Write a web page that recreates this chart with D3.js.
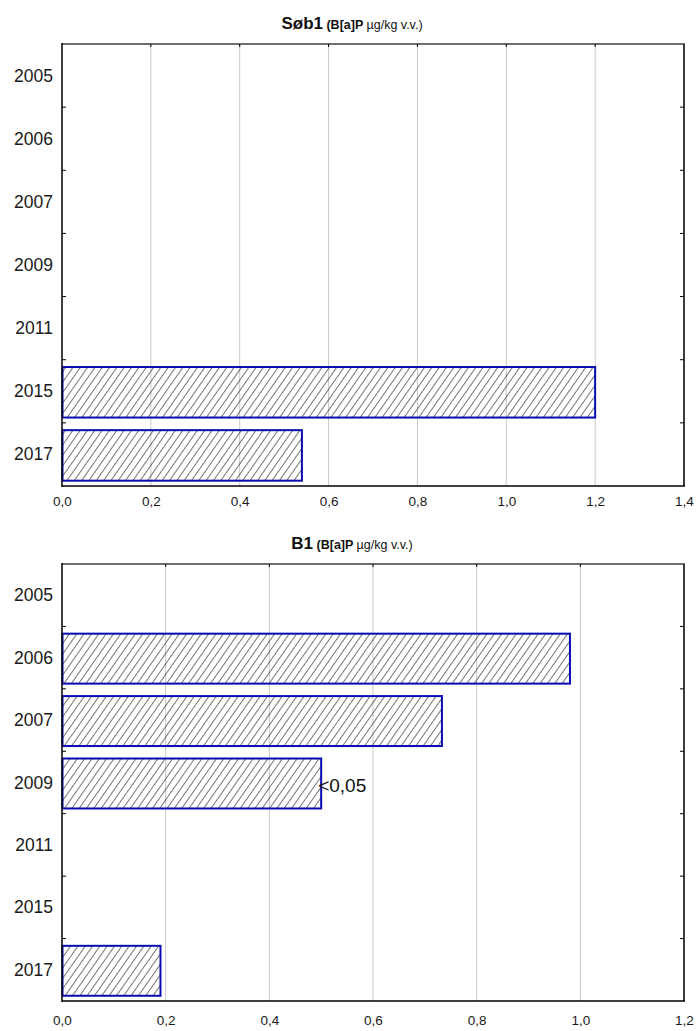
<!DOCTYPE html>
<html>
<head>
<meta charset="utf-8">
<script src="https://cdn.jsdelivr.net/npm/d3@7"></script>
<style>
  html, body { margin: 0; padding: 0; background: #fff; }
  svg { display: block; font-family: "Liberation Sans", Arial, sans-serif; }
</style>
</head>
<body>
<svg id="chart" width="697" height="1031"></svg>
<script>
// Sampling years (one row per year, top to bottom)
const years = ["2005", "2006", "2007", "2009", "2011", "2015", "2017"];

// B[a]P concentrations, µg/kg wet weight (null = no measurement)
const sob1Values = [null, null, null, null, null, 1.2, 0.54];
const b1Values = [null, 0.98, 0.733, 0.5, null, null, 0.19];

// Value-axis tick labels for each panel
const sob1Ticks = [0, 0.2, 0.4, 0.6, 0.8, 1.0, 1.2, 1.4];
const b1Ticks = [0, 0.2, 0.4, 0.6, 0.8, 1.0, 1.2];

// Detection-limit notes written beside a bar
const b1Notes = [null, null, null, "<0,05", null, null, null];

const svg = d3.select("#chart");
const fmt = v => d3.format(".1f")(v).replace(".", ",");

// diagonal hatch fill used by every bar
const defs = svg.append("defs");
defs.append("pattern")
  .attr("id", "hatch")
  .attr("patternUnits", "userSpaceOnUse")
  .attr("width", 6).attr("height", 6)
  .attr("patternTransform", "rotate(35)")
  .append("line")
  .attr("x1", 0).attr("y1", 0).attr("x2", 0).attr("y2", 6)
  .attr("stroke", "#000").attr("stroke-width", 1.1);

function panel(cfg) {
  const { left, right, top, bottom, values, ticks, notes, name, labelOffset } = cfg;
  const g = svg.append("g");

  const x = d3.scaleLinear().domain([0, ticks[ticks.length - 1]]).range([left, right]);
  const y = d3.scaleBand().domain(years).range([top, bottom]).paddingInner(0.2).paddingOuter(0.1);
  const yb = d3.scaleBand().domain(years).range([top, bottom]);

  // title
  const t = g.append("text")
    .attr("x", 352).attr("y", top - 15)
    .attr("text-anchor", "middle")
    .attr("fill", "#111");
  t.append("tspan").attr("font-size", 17).attr("font-weight", "bold").text(name);
  t.append("tspan").attr("font-size", 12.5).attr("font-weight", "bold").text(" (B[a]P ");
  t.append("tspan").attr("font-size", 12.5).text("µg/kg v.v.)");

  // vertical grid lines
  g.append("g").selectAll("line")
    .data(ticks.slice(1, -1))
    .join("line")
    .attr("x1", d => x(d)).attr("x2", d => x(d))
    .attr("y1", top).attr("y2", bottom)
    .attr("stroke", "#c8c8c8").attr("stroke-width", 1);

  // bars
  const rows = years.map((yr, i) => ({ yr, v: values[i], note: notes ? notes[i] : null }))
    .filter(d => d.v != null);
  g.append("g").selectAll("rect")
    .data(rows)
    .join("rect")
    .attr("x", x(0) + 0.5)
    .attr("y", d => y(d.yr) + 1)
    .attr("width", d => x(d.v) - x(0) - 0.5)
    .attr("height", y.bandwidth())
    .attr("fill", "url(#hatch)")
    .attr("stroke", "#0a0ab4").attr("stroke-width", 2);

  // notes beside bars
  g.append("g").selectAll("text")
    .data(rows.filter(d => d.note))
    .join("text")
    .attr("x", d => x(d.v) - 3)
    .attr("y", d => y(d.yr) + y.bandwidth() / 2 + 9)
    .attr("font-size", 19)
    .attr("fill", "#111")
    .text(d => d.note);

  // frame: top and right in grey, left and bottom axes in black
  g.append("line").attr("x1", left).attr("x2", right + 1).attr("y1", top).attr("y2", top)
    .attr("stroke", "#6e6e6e").attr("stroke-width", 2);
  g.append("line").attr("x1", right).attr("x2", right).attr("y1", top).attr("y2", bottom)
    .attr("stroke", "#3c3c3c").attr("stroke-width", 2);

  // left and right ticks on the boundaries between years
  const bounds = years.slice(1).map(yr => yb(yr));
  g.append("g").selectAll("line")
    .data(bounds)
    .join("line")
    .attr("x1", left).attr("x2", left + 4)
    .attr("y1", d => d).attr("y2", d => d)
    .attr("stroke", "#000").attr("stroke-width", 1);
  g.append("g").selectAll("line")
    .data(bounds)
    .join("line")
    .attr("x1", right).attr("x2", right - 4)
    .attr("y1", d => d).attr("y2", d => d)
    .attr("stroke", "#000").attr("stroke-width", 1);
  // top ticks on the grid positions
  g.append("g").selectAll("line")
    .data(ticks.slice(1, -1))
    .join("line")
    .attr("x1", d => x(d)).attr("x2", d => x(d))
    .attr("y1", top).attr("y2", top + 3)
    .attr("stroke", "#000").attr("stroke-width", 1);

  g.append("line").attr("x1", left).attr("x2", left).attr("y1", top - 1).attr("y2", bottom + 1)
    .attr("stroke", "#000").attr("stroke-width", 1.5);
  g.append("line").attr("x1", left).attr("x2", right + 1).attr("y1", bottom).attr("y2", bottom)
    .attr("stroke", "#000").attr("stroke-width", 1.5);

  // year labels
  g.append("g").selectAll("text")
    .data(years)
    .join("text")
    .attr("x", left - 9)
    .attr("y", d => yb(d) + yb.bandwidth() / 2 + 6)
    .attr("text-anchor", "end")
    .attr("font-size", 17.5)
    .attr("fill", "#1a1a1a")
    .text(d => d);

  // value axis labels
  const ax = d3.axisBottom(x).tickValues(ticks).tickFormat(fmt).tickSize(0).tickPadding(labelOffset);
  const axg = g.append("g").attr("transform", `translate(0,${bottom})`).call(ax);
  axg.select(".domain").remove();
  axg.selectAll("text").attr("font-size", 13.5).attr("font-family", "Liberation Sans, Arial, sans-serif").attr("fill", "#1a1a1a");
}

panel({ left: 62, right: 684, top: 44, bottom: 486, values: sob1Values, ticks: sob1Ticks,
        notes: null, name: "Søb1", labelOffset: 10 });
panel({ left: 62, right: 684, top: 564, bottom: 1001, values: b1Values, ticks: b1Ticks,
        notes: b1Notes, name: "B1", labelOffset: 14 });
</script>
</body>
</html>
